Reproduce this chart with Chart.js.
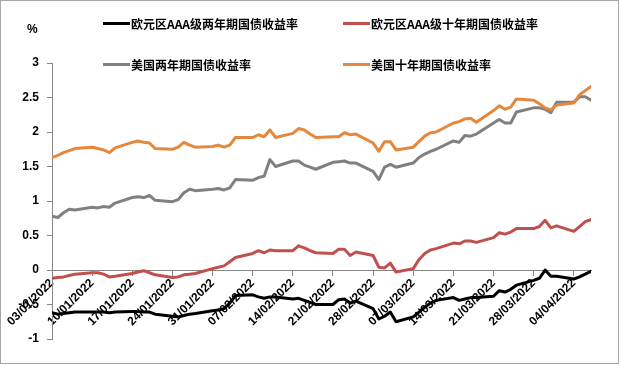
<!DOCTYPE html>
<html>
<head>
<meta charset="utf-8">
<script src="https://cdn.jsdelivr.net/npm/chart.js@4.4.0/dist/chart.umd.min.js"></script>
<style>
  body { margin: 0; background: #fff; }
  #box { position: absolute; left: 0; top: 0; width: 617px; height: 362px; border: 1px solid #a6a6a6; background: #fff; }
  #chart { position: absolute; left: 0; top: 0; }
  .unit { position: absolute; left: 26px; top: 21px; font: bold 12px "Liberation Sans", Arial, sans-serif; color: #000; }
  .leg { position: absolute; display: flex; align-items: center; height: 16px; font: bold 12px "Noto Sans CJK SC", sans-serif; color: #000; white-space: nowrap; }
  .leg i { display: inline-block; width: 27px; height: 3px; margin-right: 1px; }
</style>
</head>
<body>
<div id="box">
  <canvas id="chart" width="617" height="362"></canvas>
  <div class="unit">%</div>
  <div id="legend"></div>
</div>
<script>
// jours ouvrés affichés
const dates = [
  '03/01/2022','04/01/2022','05/01/2022','06/01/2022','07/01/2022',
  '10/01/2022','11/01/2022','12/01/2022','13/01/2022','14/01/2022',
  '17/01/2022','18/01/2022','19/01/2022','20/01/2022','21/01/2022',
  '24/01/2022','25/01/2022','26/01/2022','27/01/2022','28/01/2022',
  '31/01/2022','01/02/2022','02/02/2022','03/02/2022','04/02/2022',
  '07/02/2022','08/02/2022','09/02/2022','10/02/2022','11/02/2022',
  '14/02/2022','15/02/2022','16/02/2022','17/02/2022','18/02/2022',
  '21/02/2022','22/02/2022','23/02/2022','24/02/2022','25/02/2022',
  '28/02/2022','01/03/2022','02/03/2022','03/03/2022','04/03/2022',
  '07/03/2022','08/03/2022','09/03/2022','10/03/2022','11/03/2022',
  '14/03/2022','15/03/2022','16/03/2022','17/03/2022','18/03/2022',
  '21/03/2022','22/03/2022','23/03/2022','24/03/2022','25/03/2022',
  '28/03/2022','29/03/2022','30/03/2022','31/03/2022','01/04/2022',
  '04/04/2022','05/04/2022','06/04/2022','07/04/2022'
];

const euro2y = [
  -0.62,-0.64,-0.63,-0.62,-0.61, -0.61,-0.61,-0.61,-0.62,-0.61,
  -0.60,-0.60,-0.61,-0.61,-0.64, -0.67,-0.68,-0.66,-0.64,-0.63,
  -0.59,-0.58,-0.56,-0.48,-0.37, -0.36,-0.39,-0.41,-0.39,-0.39,
  -0.42,-0.41,-0.44,-0.47,-0.50, -0.50,-0.43,-0.42,-0.48,-0.45,
  -0.56,-0.71,-0.67,-0.61,-0.75, -0.68,-0.61,-0.54,-0.48,-0.44,
  -0.40,-0.44,-0.42,-0.40,-0.40, -0.38,-0.30,-0.32,-0.28,-0.22,
  -0.15,-0.12,0.00,-0.09,-0.09, -0.13,-0.10,-0.06,-0.02
];
const euro10y = [
  -0.12,-0.11,-0.10,-0.08,-0.06, -0.04,-0.04,-0.06,-0.10,-0.09,
  -0.05,-0.03,-0.01,-0.04,-0.07, -0.11,-0.10,-0.07,-0.06,-0.05,
  0.02,0.04,0.06,0.12,0.18, 0.24,0.28,0.25,0.29,0.28,
  0.28,0.35,0.32,0.28,0.25, 0.24,0.30,0.30,0.21,0.26,
  0.21,0.04,0.03,0.10,-0.03, 0.02,0.15,0.24,0.29,0.31,
  0.39,0.38,0.42,0.42,0.40, 0.47,0.54,0.52,0.55,0.60,
  0.60,0.63,0.72,0.61,0.64, 0.56,0.63,0.70,0.73
];
const us2y = [
  0.78,0.76,0.83,0.88,0.87, 0.91,0.90,0.92,0.91,0.97,
  1.05,1.06,1.05,1.08,1.01, 0.99,1.02,1.12,1.17,1.15,
  1.17,1.18,1.16,1.19,1.31, 1.30,1.34,1.36,1.60,1.50,
  1.58,1.58,1.52,1.49,1.46, 1.56,1.57,1.58,1.55,1.55,
  1.43,1.31,1.49,1.53,1.49, 1.55,1.63,1.68,1.72,1.75,
  1.87,1.85,1.95,1.94,1.97, 2.13,2.18,2.13,2.13,2.29,
  2.35,2.35,2.33,2.28,2.43, 2.43,2.51,2.51,2.46
];
const us10y = [
  1.63,1.66,1.70,1.73,1.76, 1.78,1.76,1.74,1.70,1.77,
  1.85,1.87,1.85,1.84,1.76, 1.75,1.78,1.85,1.81,1.78,
  1.79,1.81,1.78,1.81,1.92, 1.92,1.96,1.93,2.03,1.92,
  1.98,2.05,2.03,1.97,1.92, 1.93,1.93,1.99,1.96,1.97,
  1.84,1.72,1.86,1.86,1.74, 1.78,1.86,1.94,1.99,2.00,
  2.13,2.15,2.19,2.20,2.14, 2.31,2.38,2.33,2.36,2.48,
  2.46,2.41,2.35,2.32,2.39, 2.42,2.54,2.60,2.66
];

const tickLabels = [
  '03/01/2022','10/01/2022','17/01/2022','24/01/2022','31/01/2022','07/02/2022','14/02/2022',
  '21/02/2022','28/02/2022','07/03/2022','14/03/2022','21/03/2022','28/03/2022','04/04/2022'
];

const seriesNames = ['欧元区AAA级两年期国债收益率', '欧元区AAA级十年期国债收益率', '美国两年期国债收益率', '美国十年期国债收益率'];
const seriesColors = ['#000000', '#C0504D', '#808080', '#E5883C'];

// axe de dates : nombre de jours depuis le 03/01
function dayOf(s) {
  const [d, m, y] = s.split('/').map(Number);
  return (Date.UTC(y, m - 1, d) - Date.UTC(2022, 0, 3)) / 864e5;
}

const allSeries = [euro2y, euro10y, us2y, us10y];
const datasets = allSeries.map((vals, k) => ({
  label: seriesNames[k],
  data: dates.map((d, i) => ({ x: dayOf(d), y: vals[i] })),
  borderColor: seriesColors[k],
  borderWidth: 3,
  pointRadius: 0,
  tension: 0,
  borderJoinStyle: 'round',
  borderCapStyle: 'round',
  order: 3 - k
}));

// légende HTML (placée comme dans l'original)
const legPos = [[102, 14], [342, 14], [102, 55], [342, 55]];
const legend = document.getElementById('legend');
seriesNames.forEach((name, k) => {
  const el = document.createElement('div');
  el.className = 'leg';
  el.style.left = legPos[k][0] + 'px';
  el.style.top = legPos[k][1] + 'px';
  el.innerHTML = '<i style="background:' + seriesColors[k] + '"></i>' + name;
  legend.appendChild(el);
});

const axisGray = '#868686';
const tickFont = { family: '"Liberation Sans", Arial, sans-serif', size: 12, weight: 'bold' };

new Chart(document.getElementById('chart'), {
  type: 'line',
  data: { datasets: datasets },
  options: {
    responsive: false,
    animation: false,
    layout: { padding: { top: 62, right: 27, bottom: 24, left: 0 } },
    plugins: { legend: { display: false }, tooltip: { enabled: false } },
    scales: {
      x: {
        type: 'linear',
        position: { y: 0 },
        min: 0,
        max: dayOf(dates[dates.length - 1]),
        afterBuildTicks: (axis) => {
          axis.ticks = tickLabels.map(s => ({ value: dayOf(s) }));
        },
        ticks: {
          autoSkip: false,
          minRotation: 45,
          maxRotation: 45,
          padding: 1,
          color: '#000',
          font: tickFont,
          callback: (v, i) => tickLabels[i]
        },
        grid: { drawOnChartArea: false, drawTicks: true, tickLength: 5, color: axisGray },
        border: { display: true, color: axisGray, width: 1 }
      },
      y: {
        min: -1,
        max: 3,
        afterFit: (s) => { s.width = 51; },
        ticks: {
          stepSize: 0.5,
          padding: 8,
          color: '#000',
          font: tickFont,
          callback: (v) => String(Math.round(v * 10) / 10)
        },
        grid: { drawOnChartArea: false, drawTicks: true, tickLength: 5, color: axisGray },
        border: { display: true, color: axisGray, width: 1 }
      }
    }
  }
});
</script>
</body>
</html>
